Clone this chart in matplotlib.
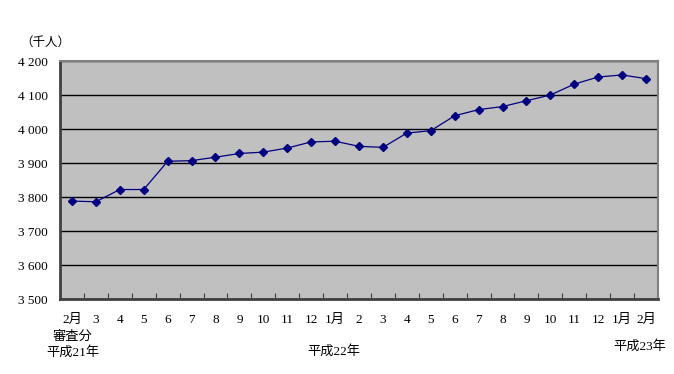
import matplotlib.pyplot as plt
from matplotlib.ticker import FuncFormatter

plt.rcParams['font.family'] = ['Liberation Serif', 'Noto Sans CJK JP']

months = ['2月', '3', '4', '5', '6', '7', '8', '9', '10', '11', '12', '1月',
          '2', '3', '4', '5', '6', '7', '8', '9', '10', '11', '12', '1月', '2月']
values = [3788, 3786, 3822, 3822, 3905, 3907, 3917, 3928, 3932, 3944, 3962, 3964,
          3949, 3946, 3988, 3995, 4039, 4057, 4066, 4083, 4100, 4132, 4153, 4159, 4148]
yticks = [3500, 3600, 3700, 3800, 3900, 4000, 4100, 4200]

fig = plt.figure(figsize=(6.74, 3.74), dpi=100)
ax = fig.add_axes([60 / 674, 1 - 299 / 374, 598 / 674, 238 / 374])
ax.set_facecolor('#c0c0c0')

x = list(range(len(values)))
ax.plot(x, values, color='#000080', linewidth=0.9, marker='D', markersize=4.5,
        markerfacecolor='#000080', markeredgecolor='#000080', zorder=3)

ax.set_xlim(-0.5, len(values) - 0.5)
ax.set_ylim(3500, 4200)
ax.set_yticks(yticks)
ax.yaxis.set_major_formatter(FuncFormatter(lambda v, p: f'{int(v):,}'.replace(',', ' ')))
ax.grid(axis='y', color='black', linewidth=1)
ax.set_axisbelow(True)

# category boundary ticks, labels at centres
ax.set_xticks([i - 0.5 for i in range(len(values) + 1)])
ax.set_xticklabels([])
ax.set_xticks(x, minor=True)
ax.set_xticklabels(months, minor=True, fontsize=9.5)
ax.tick_params(axis='x', which='major', direction='in', length=4, color='#404040')
ax.tick_params(axis='x', which='minor', length=0, pad=11)
ax.tick_params(axis='y', length=0, labelsize=9.5, pad=9)

for s in ['left', 'bottom']:
    ax.spines[s].set_color('#404040')
    ax.spines[s].set_linewidth(2)
for s in ['top', 'right']:
    ax.spines[s].set_color('#808080')
    ax.spines[s].set_linewidth(1.5)

fig.text(45 / 674, 1 - 43 / 374, '（千人）', fontsize=9, ha='center', va='center')
fig.text(73 / 674, 1 - 337 / 374, '審査分', fontsize=9.5, ha='center', va='center')
fig.text(73 / 674, 1 - 352 / 374, '平成21年', fontsize=9.5, ha='center', va='center')
fig.text(334 / 674, 1 - 351 / 374, '平成22年', fontsize=9.5, ha='center', va='center')
fig.text(640 / 674, 1 - 346 / 374, '平成23年', fontsize=9.5, ha='center', va='center')

fig.savefig('out.png', dpi=100)
